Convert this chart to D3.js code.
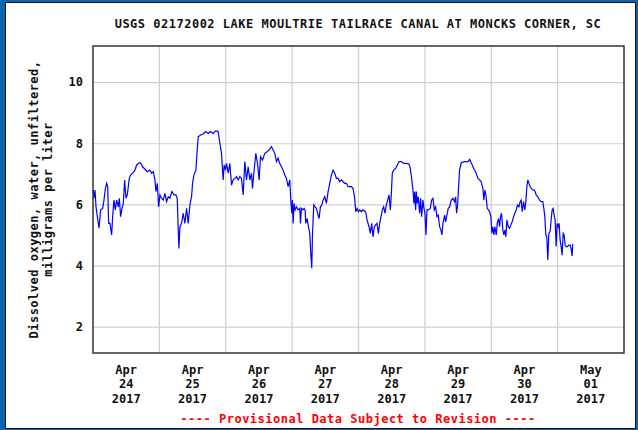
<!DOCTYPE html>
<html>
<head>
<meta charset="utf-8">
<script src="https://cdn.jsdelivr.net/npm/d3@7"></script>
<style>
  body { margin: 0; background: #fff; }
  svg text { font-family: "DejaVu Sans Mono", monospace; font-weight: bold; }
</style>
</head>
<body>
<svg id="chart"></svg>
<script>
// hours after 2017-04-24 00:00 and dissolved oxygen (mg/L)
const hours = [
  0.12, 0.36, 0.72, 1.09, 1.57, 2.17, 2.77, 3.49, 3.97, 4.46, 4.94, 5.30, 5.66, 6.14, 6.74, 7.11,
  7.59, 8.07, 8.55, 9.15, 9.51, 9.99, 10.47, 10.96, 11.44, 11.92, 12.40, 13.12, 13.60, 14.33, 15.17,
  15.77, 16.73, 17.22, 17.94, 18.78, 19.62, 20.59, 21.19, 21.79, 22.39, 22.76, 23.24, 23.72, 24.20,
  24.80, 25.40, 26.01, 26.61, 27.21, 27.81, 28.53, 29.26, 29.98, 30.46, 30.82, 31.06, 31.42,
  32.02, 32.62, 33.23, 33.83, 34.43, 35.03, 35.63, 36.00, 36.48, 37.20, 37.68, 38.04, 38.88, 39.85,
  40.81, 41.65, 42.50, 43.46, 44.42, 45.27, 45.87, 46.47, 47.07, 47.43, 47.91, 48.28, 48.88, 49.48,
  50.08, 50.68, 51.29, 51.89, 52.49, 53.09, 53.69, 54.30, 54.90, 55.50, 56.10, 56.70, 57.31, 57.67,
  58.15, 58.87, 59.47, 60.08, 60.56, 61.28, 62.12, 62.96, 63.69, 64.53,
  65.13, 65.74, 66.34, 66.94, 67.54, 68.14, 68.75, 69.35, 69.95, 70.55, 71.15, 71.52, 71.88, 72.12,
  72.36, 72.72, 73.08, 73.56, 74.16, 74.77, 75.01, 75.37, 75.97, 76.33, 76.69, 76.93, 77.41, 77.90,
  78.38, 78.74, 79.10, 79.34, 79.82, 80.30, 80.79, 81.39, 81.75, 82.23, 82.71, 83.19, 83.80, 84.40,
  85.00, 85.60, 86.20, 86.81, 87.41, 88.01, 88.61, 89.21, 89.82, 90.42, 91.02, 91.62, 92.22, 92.83,
  93.43, 94.03, 94.63, 94.99, 95.47, 95.95, 96.44, 97.04,
  97.63, 98.60, 99.08, 99.80, 100.28, 100.76, 101.25, 101.73, 102.21, 102.69, 103.17, 103.65, 104.14,
  104.62, 105.10, 105.58, 106.06, 106.54, 107.03, 107.51, 107.87, 108.23, 108.71, 109.43, 110.04,
  110.64, 111.48, 112.32, 113.29, 114.25, 114.73, 115.21, 115.69, 116.05, 116.30, 116.66, 116.90,
  117.26, 117.62, 118.10, 118.46, 118.82, 119.30, 119.67, 120.03, 120.39, 120.75, 121.23, 121.95,
  122.44, 122.92, 123.40, 123.88, 124.36, 124.84, 125.33, 125.81, 126.17, 126.53, 127.13, 127.49,
  127.97, 128.45, 128.94, 129.54,
  130.14, 130.75, 131.11, 131.47, 131.83, 132.19, 132.55, 133.15, 134.36, 135.56, 136.16, 136.53,
  137.13, 137.61, 138.33, 139.17, 139.78, 140.38, 140.98, 141.34, 141.70, 142.18, 142.54, 143.03,
  143.39, 143.87, 144.23, 144.59, 144.95, 145.31, 145.80, 146.16, 146.64, 147.00, 147.36, 147.72,
  148.20, 148.56, 148.93, 149.29, 149.65, 150.13, 150.61, 151.09, 151.58, 152.06, 152.54, 153.02,
  153.50, 153.98, 154.46, 154.83, 155.19, 155.67, 156.15, 156.51, 156.87, 157.23, 157.83, 158.44,
  159.04, 159.64, 160.24, 160.84, 161.45, 162.05,
  162.64, 163.01, 163.37, 163.73, 164.09, 164.45, 164.81, 165.29, 165.65, 166.02, 166.38, 166.74,
  167.10, 167.46, 167.82, 168.18, 168.54, 168.90, 169.27, 169.63, 169.99, 170.35, 170.71, 171.07,
  171.55, 172.04, 172.52, 172.88, 173.24, 173.48
];
const oxygen = [
  6.47, 6.20, 6.47, 5.92, 5.60, 5.22, 5.82, 5.87, 6.14, 6.52, 6.69, 6.58, 5.38, 5.38, 5.00, 5.60,
  6.14, 5.82, 6.14, 5.92, 6.20, 5.60, 5.87, 6.03, 6.80, 6.20, 6.31, 6.85, 6.96, 7.02, 7.12,
  7.29, 7.36, 7.36, 7.23, 7.15, 7.07, 7.12, 7.02, 7.07, 6.80, 6.42, 6.69, 5.92, 6.31,
  6.20, 6.14, 6.36, 6.09, 6.25, 6.20, 6.42, 6.31, 6.31, 6.20, 5.16, 4.56, 5.27,
  5.38, 5.71, 5.38, 5.87, 5.38, 5.98, 6.25, 6.69, 6.96, 7.12, 7.78, 8.21, 8.27, 8.30,
  8.38, 8.32, 8.38, 8.32, 8.41, 8.38, 8.00, 7.67, 6.80, 7.29, 7.12, 7.34, 7.02, 7.34,
  6.63, 6.80, 6.85, 6.91, 6.80, 6.91, 6.85, 6.31, 7.40, 6.80, 7.23, 6.80, 7.02, 6.52,
  7.02, 7.67, 7.34, 6.80, 7.56, 7.45, 7.67, 7.72, 7.78, 7.89,
  7.78, 7.67, 7.40, 7.51, 7.34, 7.23, 7.12, 6.96, 6.85, 6.58, 6.80, 6.14, 5.71, 6.14,
  5.38, 6.03, 5.82, 5.92, 5.82, 5.87, 5.38, 5.87, 5.82, 5.87, 5.82, 5.38, 5.54, 5.27,
  5.05, 4.40, 3.91, 4.94, 5.98, 5.92, 5.87, 5.65, 5.54, 5.92, 5.98, 6.14, 6.25, 6.03,
  6.42, 6.69, 6.96, 7.12, 7.02, 6.85, 6.85, 6.74, 6.80, 6.74, 6.69, 6.69, 6.58, 6.58,
  6.58, 6.52, 6.20, 5.76, 5.87, 5.76, 5.82, 5.76,
  5.82, 5.76, 5.49, 5.27, 5.05, 5.38, 4.94, 5.27, 5.33, 5.38, 5.05, 5.38, 5.60,
  5.82, 5.92, 5.71, 5.98, 6.14, 6.31, 5.82, 6.36, 7.02, 7.12, 7.18, 7.29,
  7.40, 7.40, 7.34, 7.34, 7.32, 7.18, 6.85, 6.47, 6.03, 6.42, 5.82, 6.42,
  6.03, 6.25, 5.71, 6.20, 5.60, 6.14, 5.87, 5.71, 5.00, 5.82, 5.82, 5.87,
  6.14, 6.20, 5.82, 5.92, 5.60, 5.65, 5.27, 5.16, 5.00, 5.38, 5.65, 5.43,
  5.65, 5.87, 5.92, 6.14,
  6.20, 6.09, 6.25, 5.71, 5.98, 6.58, 7.12, 7.36, 7.40, 7.40, 7.47, 7.40,
  7.29, 7.18, 7.07, 6.85, 6.80, 6.74, 6.52, 6.14, 6.47, 6.25, 5.87, 5.82,
  5.76, 5.60, 5.05, 5.27, 5.00, 5.27, 5.00, 5.38, 5.54, 5.27, 5.60, 5.71,
  5.16, 5.00, 5.16, 4.94, 5.49, 5.27, 5.22, 5.33, 5.43, 5.60, 5.71, 5.82,
  5.98, 5.92, 6.09, 6.14, 5.76, 6.09, 5.82, 6.09, 6.58, 6.80, 6.63, 6.52,
  6.47, 6.47, 6.31, 6.25, 6.14, 6.09,
  6.09, 5.87, 5.60, 5.00, 4.94, 4.18, 5.05, 5.11, 5.49, 5.82, 5.87, 5.65,
  5.49, 4.62, 5.38, 5.27, 5.38, 4.83, 4.62, 4.34, 5.05, 5.00, 4.67, 4.62,
  4.62, 4.67, 4.67, 4.56, 4.31, 4.70
];
const yTicks = [2, 4, 6, 8, 10];
const dayLabels = ["Apr\n24\n2017", "Apr\n25\n2017", "Apr\n26\n2017", "Apr\n27\n2017",
  "Apr\n28\n2017", "Apr\n29\n2017", "Apr\n30\n2017", "May\n01\n2017"];
const title = "USGS 02172002 LAKE MOULTRIE TAILRACE CANAL AT MONCKS CORNER, SC";
const yTitle = ["Dissolved oxygen, water, unfiltered,", "milligrams per liter"];
const footer = "---- Provisional Data Subject to Revision ----";

const W = 638, H = 430;
const margin = {top: 46, right: 14, bottom: 77, left: 93};
const width = W - margin.left - margin.right,
      height = H - margin.top - margin.bottom;

const start = Date.UTC(2017, 3, 24);
const data = hours.map((h, i) => ({t: new Date(start + h * 3600e3), v: oxygen[i]}));

const svg = d3.select("#chart").attr("width", W).attr("height", H);

// blue frame round the picture
svg.append("rect").attr("width", W).attr("height", H).attr("fill", "#0f62ae");
svg.append("rect").attr("x", 5.5).attr("y", 2.5).attr("width", 630).attr("height", 426)
  .attr("fill", "#fff").attr("stroke", "#111").attr("stroke-width", 1);

const g = svg.append("g").attr("transform", "translate(" + margin.left + "," + margin.top + ")");

const x = d3.scaleUtc()
  .domain([new Date(start), new Date(start + 8 * 864e5)])
  .range([0, width]);

const y = d3.scaleLinear()
  .domain([1.14, 11.18])
  .range([height, 0]);

// grid + y labels
const yAxis = g.append("g")
  .call(d3.axisLeft(y).tickValues(yTicks).tickSize(-width).tickPadding(10).tickFormat(d3.format("d")));
yAxis.select(".domain").remove();
yAxis.selectAll("line").attr("stroke", "#cfcfcf").attr("stroke-width", 1.2);
yAxis.selectAll("text").attr("fill", "#111").style("font-size", "12px")
  .style("font-family", "'DejaVu Sans Mono', monospace").style("font-weight", "bold");

const days = x.ticks(d3.utcDay.every(1)).slice(1, -1);
g.append("g").selectAll("line").data(days).join("line")
  .attr("x1", d => x(d)).attr("x2", d => x(d))
  .attr("y1", 0).attr("y2", height)
  .attr("stroke", "#cfcfcf").attr("stroke-width", 1.2);

// x labels centred at noon
const noons = d3.range(8).map(i => new Date(start + i * 864e5 + 12 * 3600e3));
const xl = g.append("g").attr("transform", "translate(0," + height + ")")
  .selectAll("text").data(noons).join("text")
  .attr("text-anchor", "middle")
  .attr("fill", "#111")
  .style("font-size", "12px");
xl.each(function(d, i) {
  const lines = dayLabels[i].split("\n");
  d3.select(this).selectAll("tspan").data(lines).join("tspan")
    .attr("x", x(d))
    .attr("y", (s, j) => 21 + j * 14.3)
    .text(s => s);
});

// series
const line = d3.line().x(d => x(d.t)).y(d => y(d.v));
g.append("path").datum(data)
  .attr("fill", "none")
  .attr("stroke", "#0000ff")
  .attr("stroke-width", 1.2)
  .attr("d", line);

// plot frame
g.append("rect").attr("width", width).attr("height", height)
  .attr("fill", "none").attr("stroke", "#333").attr("stroke-width", 1.5);

// titles
svg.append("text").attr("x", 358).attr("y", 28)
  .attr("text-anchor", "middle").attr("fill", "#111")
  .style("font-size", "12px").style("letter-spacing", "0.5px")
  .text(title);

svg.append("g").attr("transform", "translate(0," + (margin.top + height / 2) + ") rotate(-90)")
  .selectAll("text").data(yTitle).join("text")
  .attr("x", 0).attr("y", (d, i) => 38 + i * 13.5)
  .attr("text-anchor", "middle").attr("fill", "#111")
  .style("font-size", "12px").style("letter-spacing", "0.5px")
  .text(d => d);

svg.append("text").attr("x", 358).attr("y", 423)
  .attr("text-anchor", "middle").attr("fill", "#ff0000")
  .style("font-size", "12px").style("letter-spacing", "0.5px")
  .text(footer);
</script>
</body>
</html>
